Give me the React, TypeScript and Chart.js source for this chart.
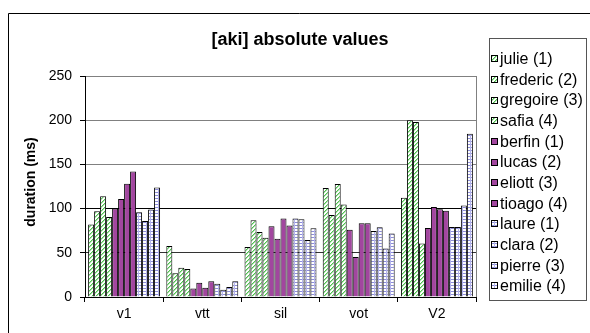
import React, { useEffect, useRef } from 'react';
import { Chart, registerables } from 'chart.js';
Chart.register(...registerables);

const categories = ['v1', 'vtt', 'sil', 'vot', 'V2'];
const seriesNames = [
  'julie (1)', 'frederic (2)', 'gregoire (3)', 'safia (4)',
  'berfin (1)', 'lucas (2)', 'eliott (3)', 'tioago (4)',
  'laure (1)', 'clara (2)', 'pierre (3)', 'emilie (4)',
];
const julie = [82, 57.7, 56.6, 123.3, 112.4];
const frederic = [97, 26.8, 86.8, 92.8, 200];
const gregoire = [114, 33, 73.5, 127.8, 198];
const safia = [90.5, 31.7, 67, 104.5, 60.4];
const berfin = [100, 9.5, 80, 76.2, 78];
const lucas = [111, 16, 66, 45.3, 101.8];
const eliott = [128, 10.6, 88.7, 83.4, 99.2];
const tioago = [142, 17.8, 81, 83.4, 97.7];
const laure = [96, 15, 88.7, 74.7, 79.2];
const clara = [86, 8.3, 88, 78.8, 79.2];
const pierre = [99, 11.3, 64.5, 55, 103.4];
const emilie = [124, 17.8, 77.7, 71.7, 184.8];
const seriesValues = [julie, frederic, gregoire, safia, berfin, lucas, eliott, tioago, laure, clara, pierre, emilie];
const yTicks = [0, 50, 100, 150, 200, 250];
const titleText = '[aki] absolute values';
const yTitle = 'duration (ms)';

const FONT = 'Arial, "Liberation Sans", sans-serif';

function makeGreen(ctx: CanvasRenderingContext2D) {
  const c = document.createElement('canvas');
  c.width = 4; c.height = 4;
  const g = c.getContext('2d')!;
  g.fillStyle = '#ffffff';
  g.fillRect(0, 0, 4, 4);
  for (let i = 0; i < 4; i++) {
    g.fillStyle = '#4fc24f';
    g.fillRect(i, 3 - i, 1, 1);
    g.fillStyle = '#a8e2a8';
    g.fillRect(i, (4 - i) % 4, 1, 1);
  }
  return ctx.createPattern(c, 'repeat')!;
}
function makeBlue(ctx: CanvasRenderingContext2D) {
  const c = document.createElement('canvas');
  c.width = 4; c.height = 3;
  const g = c.getContext('2d')!;
  g.fillStyle = '#ffffff';
  g.fillRect(0, 0, 4, 3);
  g.fillStyle = '#8c8cd8';
  g.fillRect(0, 0, 4, 1);
  g.fillStyle = '#b4b4ea';
  g.fillRect(2, 0, 1, 3);
  return ctx.createPattern(c, 'repeat')!;
}

export default function App() {
  const ref = useRef<HTMLCanvasElement>(null);
  useEffect(() => {
    const canvas = ref.current!;
    const ctx = canvas.getContext('2d')!;
    const green = makeGreen(ctx);
    const blue = makeBlue(ctx);
    const purple = '#a2469f';
    const fills = seriesNames.map((_, i) => (i < 4 ? green : i < 8 ? purple : blue));

    const decor = {
      id: 'decor',
      afterDraw(chart: any) {
        const c = chart.ctx as CanvasRenderingContext2D;
        const area = chart.chartArea;
        c.save();
        c.strokeStyle = '#000';
        c.lineWidth = 1;
        c.beginPath();
        c.moveTo(8.5, 340);
        c.lineTo(8.5, 13.5);
        c.lineTo(595, 13.5);
        c.stroke();
        c.strokeStyle = '#808080';
        c.beginPath();
        c.moveTo(Math.round(area.right) + 0.5, area.top);
        c.lineTo(Math.round(area.right) + 0.5, area.bottom);
        c.stroke();
        c.fillStyle = '#000';
        c.font = `bold 18px ${FONT}`;
        c.textAlign = 'center';
        c.textBaseline = 'middle';
        c.fillText(titleText, 300, 40);
        c.save();
        c.translate(31, 182);
        c.rotate(-Math.PI / 2);
        c.font = `bold 14px ${FONT}`;
        c.fillText(yTitle, 0, 0);
        c.restore();
        c.strokeStyle = '#555';
        c.strokeRect(489.5, 38.5, 97, 262);
        c.font = `16px ${FONT}`;
        c.textAlign = 'left';
        for (let i = 0; i < seriesNames.length; i++) {
          const cy = 58.7 + 20.66 * i;
          const top = Math.round(cy - 3.5);
          c.fillStyle = fills[i] as any;
          c.fillRect(491, top, 7, 7);
          c.strokeStyle = '#000';
          c.strokeRect(491.5, top + 0.5, 6, 6);
          c.fillStyle = '#000';
          c.fillText(seriesNames[i], 500, cy + 1);
        }
        c.restore();
      },
    };

    const chart = new Chart(canvas, {
      type: 'bar',
      data: {
        labels: categories,
        datasets: seriesNames.map((name, i) => ({
          label: name,
          data: seriesValues[i],
          backgroundColor: fills[i] as any,
          borderColor: '#000',
          borderWidth: 1,
          categoryPercentage: 0.92,
          barPercentage: 1,
        })),
      },
      options: {
        responsive: false,
        animation: false,
        events: [],
        layout: { padding: { left: 0, top: 76, right: 114, bottom: 0 } },
        plugins: { legend: { display: false }, title: { display: false }, tooltip: { enabled: false } },
        scales: {
          x: {
            grid: { offset: true, drawOnChartArea: false, drawTicks: true, tickLength: 5, color: '#000' },
            border: { color: '#000' },
            ticks: { color: '#000', font: { family: FONT, size: 14 }, padding: 4 },
            afterFit: (s: any) => { s.height = 36; },
          },
          y: {
            min: 0,
            max: 250,
            afterBuildTicks: (s: any) => { s.ticks = yTicks.map((v) => ({ value: v })); },
            grid: {
              color: (c: any) => (c.tick && (c.tick.value === 100) ? '#000' : c.tick && c.tick.value === 50 ? '#333' : '#808080'),
              tickColor: '#000',
              tickLength: 5,
            },
            border: { color: '#000' },
            ticks: { color: '#000', font: { family: FONT, size: 14 }, padding: 8 },
            afterFit: (s: any) => { s.width = 85; },
          },
        },
      },
      plugins: [decor],
    });
    return () => chart.destroy();
  }, []);
  return (
    <div style={{ position: 'fixed', left: 0, top: 0, width: 590, height: 333, background: '#fff' }}>
      <canvas ref={ref} width={590} height={333} style={{ display: 'block' }} />
    </div>
  );
}
